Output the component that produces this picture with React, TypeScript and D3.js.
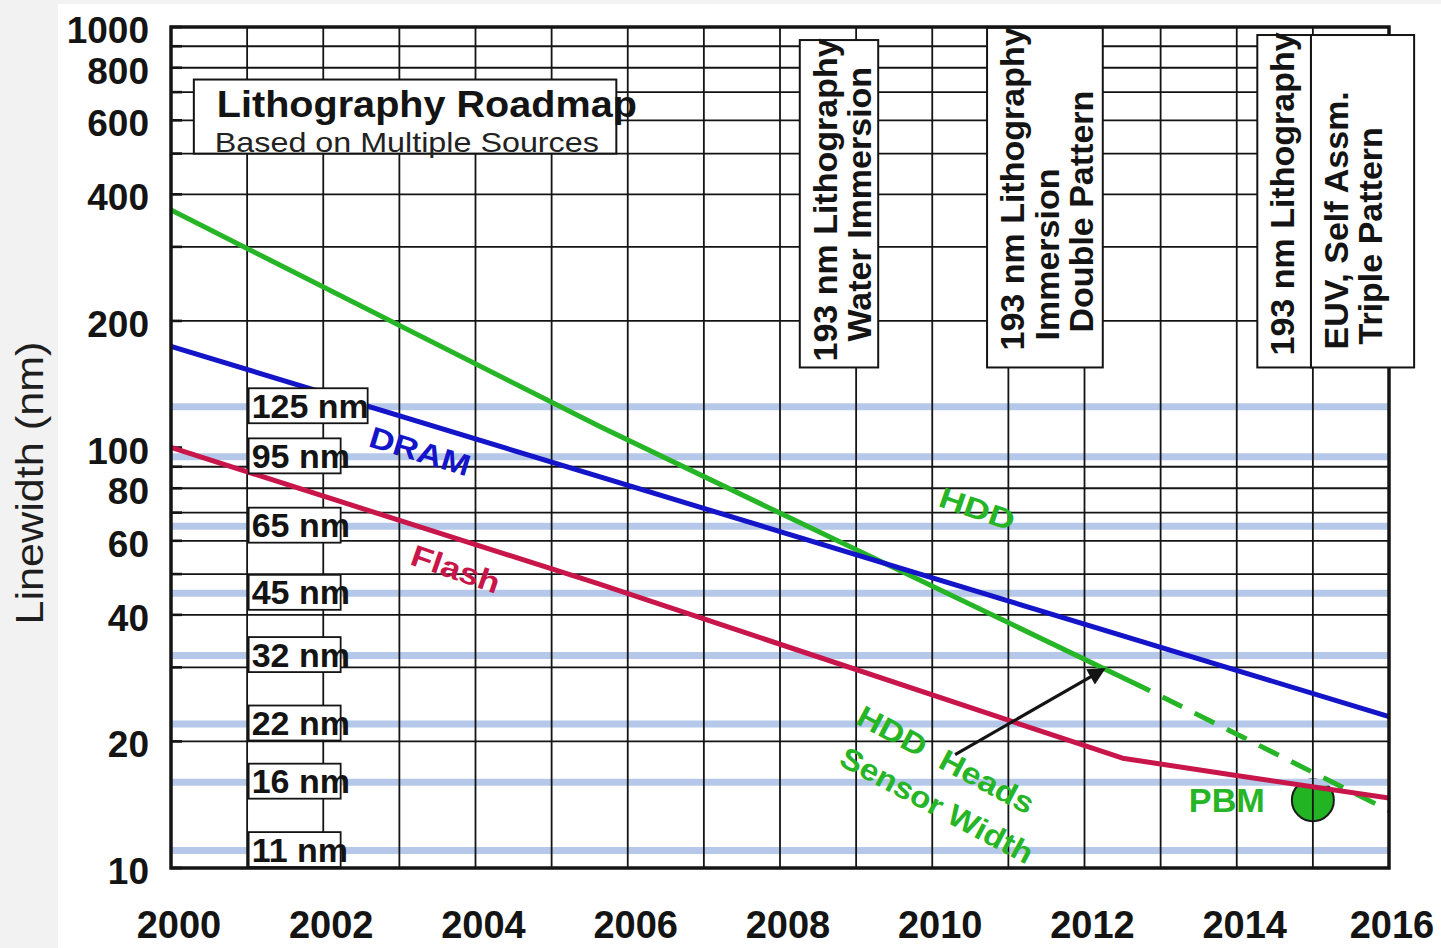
import React from "react";
import * as d3 from "d3";

// ---------- data ----------
const yearTicks = [2000, 2002, 2004, 2006, 2008, 2010, 2012, 2014, 2016];
const nmTickLabels = [10, 20, 40, 60, 80, 100, 200, 400, 600, 800, 1000];

// DRAM half-pitch (nm)
const dramYears = [2000, 2016];
const dramNm = [174, 22.9];

// Flash half-pitch (nm)
const flashYears = [2000, 2005.6, 2012.5, 2013.95, 2016];
const flashNm = [100, 47.5, 18.24, 16.64, 14.67];

// HDD head sensor width (nm): actual, then projected
const hddYears = [2000, 2005.64, 2012.86];
const hddNm = [367, 112, 26.4];
const hddProjYears = [2012.86, 2016];
const hddProjNm = [26.4, 13.7];

// Process nodes
const nodeNm = [125, 95, 65, 45, 32, 22, 16, 11];
const nodeLabels = ["125 nm", "95 nm", "65 nm", "45 nm", "32 nm", "22 nm", "16 nm", "11 nm"];

// PBM point
const pbmYear = 2015;
const pbmNm = 14.5;

// Lithography stages (year span, nm span, text lines)
const stageLines = [
  ["193 nm Lithography", "Water Immersion"],
  ["193 nm Lithography", "Immersion", "Double Pattern"],
  ["193 nm Lithography"],
  ["EUV, Self Assm.", "Triple Pattern"],
];
const stageYearFrom = [2008.26, 2010.72, 2014.27, 2014.975];
const stageYearTo = [2009.29, 2012.24, 2014.975, 2016.33];
const stageNmTop = [931, 995, 957, 957];
const stageNmBottom = [155, 155, 155, 155];

// ---------- layout ----------
const W = 1441;
const H = 948;
const P = { left: 171, right: 1389, top: 27, bottom: 868 };

const GREEN = "#26b526";
const BLUE = "#1414c8";
const RED = "#c8164a";
const BAND = "#b6c8ea";
const INK = "#141414";
const FONT = "'Liberation Sans', Arial, Helvetica, sans-serif";

// text start inset from box bottom, per stage line
const stageInset = [[6, 26], [17, 27, 35], [12], [18, 23]];

type Pt = [number, number];
const zip = (a: number[], b: number[]): Pt[] => a.map((v, i) => [v, b[i]] as Pt);

export default function App() {
  const x = d3.scaleLinear().domain([2000, 2016]).range([P.left, P.right]);
  const y = d3.scaleLog().domain([10, 1000]).range([P.bottom, P.top]);
  const line = d3
    .line<Pt>()
    .x((d) => x(d[0]))
    .y((d) => y(d[1]));

  const gridNm = y.ticks().filter((v) => ![10, 100, 1000].includes(v));
  const gridYears = x.ticks(16).filter((v) => v > 2000 && v < 2016);

  // rotated curve labels, anchored in data space
  const curveLabels = [
    { text: "DRAM", yr: 2003.27, nm: 98, rot: 17, size: 30, len: 104, color: BLUE },
    { text: "Flash", yr: 2003.74, nm: 51.4, rot: 19, size: 30, len: 92, color: RED },
    { text: "HDD", yr: 2010.59, nm: 71.4, rot: 19, size: 29, len: 78, color: GREEN },
    { text: "HDD  Heads", yr: 2010.18, nm: 18.1, rot: 28, size: 30, len: 196, color: GREEN },
    { text: "Sensor Width", yr: 2010.06, nm: 14.1, rot: 28, size: 30, len: 214, color: GREEN },
  ];

  const arrowFrom: Pt = [2010.3, 18.6];
  const arrowTo: Pt = [2012.24, 29.6];

  const titleX0 = x(2000.3);
  const titleX1 = x(2005.85);
  const titleY0 = y(750);
  const titleY1 = y(500);

  return (
    <div style={{ position: "fixed", left: 0, top: 0 }}>
      <svg width={W} height={H} style={{ display: "block" }} fontFamily={FONT}>
        <defs>
          <marker
            id="arrowHead"
            viewBox="0 0 10 10"
            refX="8"
            refY="5"
            markerWidth="6"
            markerHeight="5.5"
            orient="auto"
          >
            <path d="M0,0L10,5L0,10z" fill={INK} />
          </marker>
          <clipPath id="plotClip">
            <rect x={P.left} y={P.top} width={P.right - P.left} height={P.bottom - P.top} />
          </clipPath>
        </defs>

        {/* page */}
        <rect x={0} y={0} width={W} height={H} fill="#f2f2f2" />
        <rect x={58} y={4} width={W - 58} height={H - 4} fill="#ffffff" />

        {/* PBM marker sits beneath the grid */}
        <circle cx={x(pbmYear)} cy={y(pbmNm)} r={21} fill="#22b422" stroke="#1c1c1c" strokeWidth={2} />

        {/* node bands */}
        <g clipPath="url(#plotClip)">
          {nodeNm.map((v) => (
            <line key={v} x1={P.left} x2={P.right} y1={y(v)} y2={y(v)} stroke={BAND} strokeWidth={7} />
          ))}
        </g>

        {/* grid */}
        <g stroke={INK} strokeWidth={1.8}>
          {gridNm.map((v) => (
            <line key={"h" + v} x1={P.left} x2={P.right} y1={y(v)} y2={y(v)} />
          ))}
          {gridYears.map((v) => (
            <line key={"v" + v} x1={x(v)} x2={x(v)} y1={P.top} y2={P.bottom} />
          ))}
        </g>
        {/* inward ticks on the value axis */}
        <g stroke={INK} strokeWidth={2.6}>
          {y.ticks().map((v) => (
            <line key={"t" + v} x1={P.left} x2={P.left + 11} y1={y(v)} y2={y(v)} />
          ))}
        </g>

        {/* title box */}
        <rect
          x={titleX0}
          y={titleY0}
          width={titleX1 - titleX0}
          height={titleY1 - titleY0}
          fill="#fff"
          stroke={INK}
          strokeWidth={2}
        />
        <text
          x={titleX0 + 23}
          y={titleY0 + 37}
          fontSize={37}
          fontWeight="bold"
          fill={INK}
          textLength={420}
          lengthAdjust="spacingAndGlyphs"
        >
          Lithography Roadmap
        </text>
        <text
          x={titleX0 + 21}
          y={titleY0 + 72}
          fontSize={28}
          fill="#222"
          textLength={384}
          lengthAdjust="spacingAndGlyphs"
        >
          Based on Multiple Sources
        </text>

        {/* technology curves */}
        <g fill="none" strokeWidth={5} strokeLinejoin="round" clipPath="url(#plotClip)">
          <path d={line(zip(hddYears, hddNm)) ?? ""} stroke={GREEN} />
          <path
            d={line(zip(hddProjYears, hddProjNm)) ?? ""}
            stroke={GREEN}
            strokeDasharray="22 14"
            strokeDashoffset={22}
          />
          <path d={line(zip(dramYears, dramNm)) ?? ""} stroke={BLUE} />
          <path d={line(zip(flashYears, flashNm)) ?? ""} stroke={RED} />
        </g>

        {/* node label boxes */}
        {nodeNm.map((v, i) => {
          const bw = nodeLabels[i].length > 5 ? 119 : 92;
          const cy = y(v) - 1;
          return (
            <g key={"nl" + v}>
              <rect x={x(2001.02)} y={cy - 17.5} width={bw} height={35} fill="#fff" stroke={INK} strokeWidth={1.8} />
              <text x={x(2001.02) + 3} y={cy + 12} fontSize={34} fontWeight="bold" fill={INK}>
                {nodeLabels[i]}
              </text>
            </g>
          );
        })}

        {/* plot frame */}
        <rect
          x={P.left}
          y={P.top}
          width={P.right - P.left}
          height={P.bottom - P.top}
          fill="none"
          stroke={INK}
          strokeWidth={3.5}
        />

        {/* lithography stage boxes */}
        {stageLines.map((lines, i) => {
          const bx0 = x(stageYearFrom[i]);
          const bx1 = x(stageYearTo[i]);
          const by0 = y(stageNmTop[i]);
          const by1 = y(stageNmBottom[i]);
          return (
            <g key={"st" + i}>
              <rect x={bx0} y={by0} width={bx1 - bx0} height={by1 - by0} fill="#fff" stroke={INK} strokeWidth={2} />
              {lines.map((t, j) => (
                <text
                  key={j}
                  transform={`translate(${bx0 + 37 + j * 34.5},${by1 - stageInset[i][j]}) rotate(-90)`}
                  fontSize={34}
                  fontWeight="bold"
                  fill={INK}
                >
                  {t}
                </text>
              ))}
            </g>
          );
        })}

        {/* value axis labels */}
        {nmTickLabels.map((v) => (
          <text key={"yl" + v} x={149} y={y(v) + 16} textAnchor="end" fontSize={37} fontWeight="bold" fill={INK}>
            {v}
          </text>
        ))}
        {/* year axis labels */}
        {yearTicks.map((v) => (
          <text
            key={"xl" + v}
            x={Math.min(x(v) + 8, W - 49)}
            y={938}
            textAnchor="middle"
            fontSize={38}
            fontWeight="bold"
            fill={INK}
          >
            {v}
          </text>
        ))}
        <text
          transform="translate(43,483) rotate(-90)"
          textAnchor="middle"
          fontSize={38}
          fill="#1e1e1e"
          textLength={283}
          lengthAdjust="spacingAndGlyphs"
        >
          Linewidth (nm)
        </text>

        {/* curve labels */}
        {curveLabels.map((c) => (
          <text
            key={c.text}
            transform={`translate(${x(c.yr)},${y(c.nm)}) rotate(${c.rot})`}
            textAnchor="middle"
            dominantBaseline="central"
            fontSize={c.size}
            fontWeight="bold"
            fill={c.color}
            textLength={c.len}
            lengthAdjust="spacingAndGlyphs"
            style={{ whiteSpace: "pre" }}
          >
            {c.text}
          </text>
        ))}

        {/* arrow from the heads label to the HDD curve */}
        <line
          x1={x(arrowFrom[0])}
          y1={y(arrowFrom[1])}
          x2={x(arrowTo[0])}
          y2={y(arrowTo[1])}
          stroke={INK}
          strokeWidth={3.2}
          markerEnd="url(#arrowHead)"
        />

        <text
          x={x(2013.87)}
          y={y(pbmNm) + 12}
          textAnchor="middle"
          fontSize={34}
          fontWeight="bold"
          fill={GREEN}
          textLength={76}
          lengthAdjust="spacingAndGlyphs"
        >
          PBM
        </text>
      </svg>
    </div>
  );
}
